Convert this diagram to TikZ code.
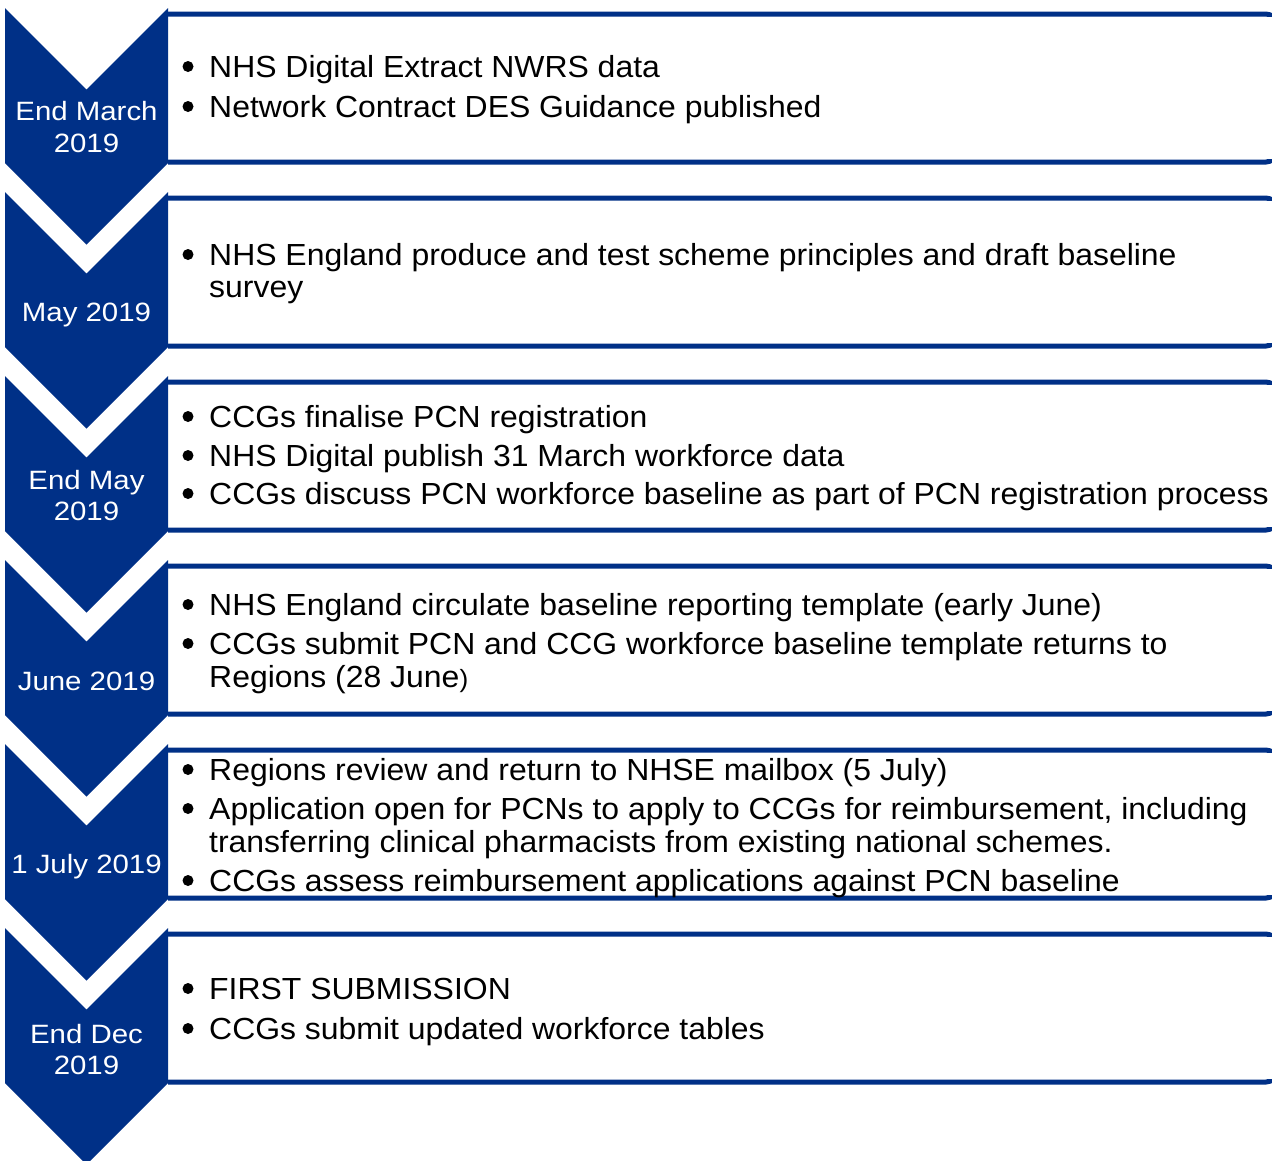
\documentclass[tikz,border=0pt]{standalone}
\usepackage{fontspec}
\setmainfont{Liberation Sans}
\definecolor{nhsblue}{RGB}{0,48,135}
\newcommand{\itemfont}{\fontsize{30.5}{34}\selectfont}
\newcommand{\labfont}{\fontsize{26.5}{31}\selectfont}
\tikzset{
  chev/.style={fill=nhsblue, draw=none},
  boxline/.style={draw=nhsblue, line width=5pt, fill=white, rounded corners=10pt},
  item/.style={anchor=base west, inner sep=0pt, font=\itemfont, text=black, xscale=1.047, transform shape},
  bul/.style={circle, fill=black, inner sep=0pt, minimum size=11pt},
  lab/.style={anchor=base, inner sep=0pt, font=\labfont, text=white, xscale=1.11, transform shape}
}
\begin{document}
\begin{tikzpicture}[x=1pt,y=-1pt]
\useasboundingbox (0,0) rectangle (1272,1160);
\clip (0,0) rectangle (1272,1160);
\fill[white] (0,0) rectangle (1272,1160);
% boxes
\foreach \y in {8,192,376,560,744,928}{
  \path[boxline] (168,\y+6) -- (1276,\y+6) -- (1276,\y+154) -- (168,\y+154);
  \fill[white] (165,\y+9) rectangle (1272,\y+151);
}
% chevrons
\foreach \y in {8,192,376,560,744,928}{
  \fill[chev] (5,\y) -- (86.5,\y+81.5) -- (168,\y) -- (168,\y+155) -- (86.5,\y+236.5) -- (5,\y+155) -- cycle;
}
% labels
\node[lab] (l1a) at (86.5,120) {End March};
\node[lab] (l1b) at (86.5,152) {2019};
\node[lab] (l2) at (86.5,321) {May 2019};
\node[lab] (l3a) at (86.5,489) {End May};
\node[lab] (l3b) at (86.5,520) {2019};
\node[lab] (l4) at (86.5,690) {June 2019};
\node[lab] (l5) at (86.5,873) {1 July 2019};
\node[lab] (l6a) at (86.5,1043) {End Dec};
\node[lab] (l6b) at (86.5,1074) {2019};
% box 1
\node[bul] (b1a) at (188,77-10.5) {};
\node[item] (t1a) at (209,77) {NHS Digital Extract NWRS data};
\node[bul] (b1b) at (188,117-10.5) {};
\node[item] (t1b) at (209,117) {Network Contract DES Guidance published};
% box 2
\node[bul] (b2a) at (188,265-10.5) {};
\node[item] (t2a) at (209,265) {NHS England produce and test scheme principles and draft baseline};
\node[item] (t2b) at (209,297) {survey};
% box 3
\node[bul] (b3a) at (188,427-10.5) {};
\node[item] (t3a) at (209,427) {CCGs finalise PCN registration};
\node[bul] (b3b) at (188,466-10.5) {};
\node[item] (t3b) at (209,466) {NHS Digital publish 31 March workforce data};
\node[bul] (b3c) at (188,504-10.5) {};
\node[item] (t3c) at (209,504) {CCGs discuss PCN workforce baseline as part of PCN registration process};
% box 4
\node[bul] (b4a) at (188,615-10.5) {};
\node[item] (t4a) at (209,615) {NHS England circulate baseline reporting template (early June)};
\node[bul] (b4b) at (188,654-10.5) {};
\node[item] (t4b) at (209,654) {CCGs submit PCN and CCG workforce baseline template returns to};
\node[item] (t4c) at (209,687) {Regions (28 June{\fontsize{25}{30}\selectfont)}};
% box 5
\node[bul] (b5a) at (188,780-10.5) {};
\node[item] (t5a) at (209,780) {Regions review and return to NHSE mailbox (5 July)};
\node[bul] (b5b) at (188,819-10.5) {};
\node[item] (t5b) at (209,819) {Application open for PCNs to apply to CCGs for reimbursement, including};
\node[item] (t5c) at (209,852) {transferring clinical pharmacists from existing national schemes.};
\node[bul] (b5d) at (188,891-10.5) {};
\node[item] (t5d) at (209,891) {CCGs assess reimbursement applications against PCN baseline};
% box 6
\node[bul] (b6a) at (188,999-10.5) {};
\node[item] (t6a) at (209,999) {FIRST SUBMISSION};
\node[bul] (b6b) at (188,1039-10.5) {};
\node[item] (t6b) at (209,1039) {CCGs submit updated workforce tables};
\end{tikzpicture}
\end{document}
